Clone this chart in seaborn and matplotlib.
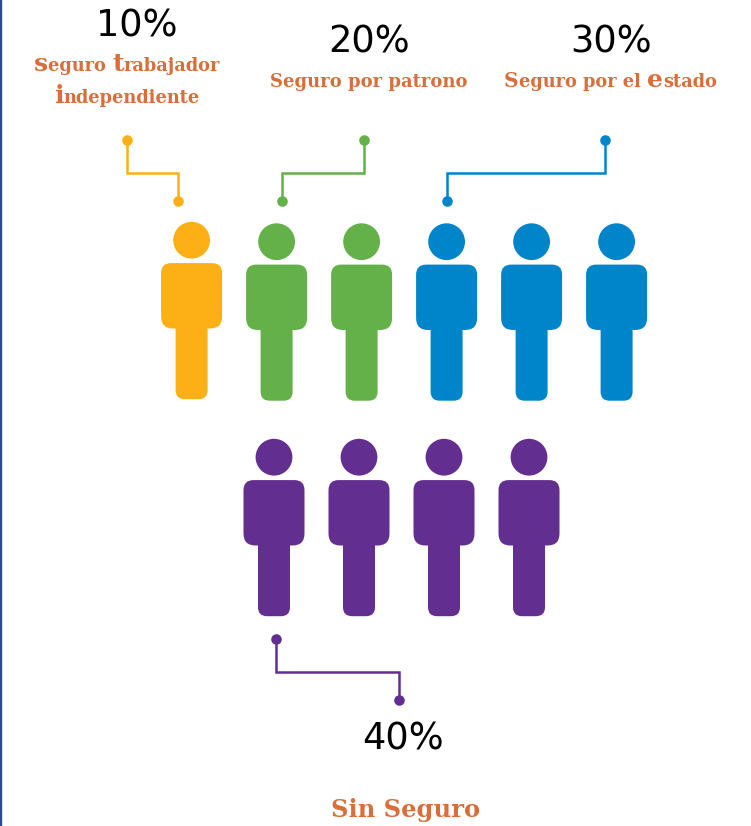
import matplotlib
matplotlib.use("Agg")
import matplotlib.pyplot as plt
import numpy as np
import pandas as pd
import seaborn as sns
from matplotlib.path import Path

categories = ["Seguro trabajador independiente", "Seguro por patrono", "Seguro por el estado", "Sin Seguro"]
shares = [10, 20, 30, 40]
share_labels = ["10%", "20%", "30%", "40%"]
colors = ["#FDB016", "#63B148", "#0085CB", "#622E90"]

W, H, DPI = 751, 826, 100
TEXT_COLOR = "#D86E3A"
SERIF = "DejaVu Serif"
PERSONS_PER_SHARE = 10
SLOT_WIDTH = 85
PERSON_HEIGHT = 177.4

# (first slot x, y) of each row of people
ROW_LAYOUT = {0: (191.6, 312), 1: (274, 527.5)}
ROW_SIZE = 6
Y_NUDGE = {0: -1.5}


def rounded_outline(corners):
    # polygon with quadratic corners: (x, y, radius)
    verts, codes = [], []
    n = len(corners)
    for i, (x, y, r) in enumerate(corners):
        p = np.array([x, y], float)
        prev = np.array(corners[i - 1][:2], float)
        nxt = np.array(corners[(i + 1) % n][:2], float)
        a = p + (prev - p) / np.linalg.norm(prev - p) * r
        b = p + (nxt - p) / np.linalg.norm(nxt - p) * r
        verts.append(a)
        codes.append(Path.MOVETO if i == 0 else Path.LINETO)
        verts += [p, b]
        codes += [Path.CURVE3, Path.CURVE3]
    verts.append(verts[0])
    codes.append(Path.CLOSEPOLY)
    return Path(verts, codes)


def person_marker():
    head = Path.circle((0, 70.3), 18.4)
    body = rounded_outline([
        (-30.5, 47.4, 10), (30.5, 47.4, 10), (30.5, -18, 12), (16, -18, 0.01),
        (16, -88.7, 9), (-16, -88.7, 9), (-16, -18, 0.01), (-30.5, -18, 12),
    ])
    return Path.make_compound_path(head, body)


# one row per person icon
rows = []
slot = 0
for i, (cat, share) in enumerate(zip(categories, shares)):
    for _ in range(share // PERSONS_PER_SHARE):
        row = slot // ROW_SIZE
        x0, y0 = ROW_LAYOUT[row]
        rows.append({
            "category": cat,
            "x": x0 + (slot % ROW_SIZE) * SLOT_WIDTH,
            "y": y0 + Y_NUDGE.get(i, 0),
        })
        slot += 1
people = pd.DataFrame(rows)

sns.set_theme(style="white")
fig = plt.figure(figsize=(W / DPI, H / DPI), dpi=DPI, facecolor="white")
ax = fig.add_axes([0, 0, 1, 1])
ax.set_xlim(0, W)
ax.set_ylim(H, 0)
ax.axis("off")

ax.axvline(1.1, color="#2B4A9B", lw=1.7)

sns.scatterplot(
    data=people,
    x="x",
    y="y",
    hue="category",
    hue_order=categories,
    palette=colors,
    marker=person_marker(),
    s=(PERSON_HEIGHT * 72 / DPI) ** 2,
    linewidth=0,
    legend=False,
    ax=ax,
)

# leader lines from the labels to the icons
leaders = [
    ([127, 127, 178, 178], [140, 173, 173, 201]),
    ([364, 364, 282, 282], [140, 173, 173, 201]),
    ([605, 605, 447, 447], [140, 173, 173, 201]),
    ([276, 276, 399, 399], [639, 672, 672, 700]),
]
for (lx, ly), color in zip(leaders, colors):
    ax.plot(lx, ly, color=color, lw=1.8, solid_joinstyle="miter")
    ax.plot([lx[0], lx[-1]], [ly[0], ly[-1]], "o", color=color, ms=7.6, mew=0)

percent_pos = [(137, 26), (369, 42), (611, 42), (403, 739)]
for label, (px, py) in zip(share_labels, percent_pos):
    ax.text(px, py, label, fontsize=26.5, color="black", ha="center", va="center",
            family="DejaVu Sans")

BIG = 18
SMALL = 12.8
renderer = fig.canvas.get_renderer()


def label_runs(x, y, runs):
    # text runs on one baseline, each starts where the last one stopped
    for s, size in runs:
        t = ax.text(x, y, s, fontsize=size, family=SERIF, weight="bold",
                    color=TEXT_COLOR, va="baseline", ha="left")
        x += t.get_window_extent(renderer).width


for x, y, runs in [
    (34, 71, [("s", BIG), ("eguro ", SMALL), ("t", BIG), ("rabajador", SMALL)]),
    (54, 103, [("i", BIG), ("ndependiente", SMALL)]),
    (270, 87, [("Seguro por patrono", 13)]),
    (504, 87, [("S", 14.5), ("eguro por el ", SMALL), ("e", BIG), ("stado", SMALL)]),
    (331, 817, [("Sin Seguro", 17.4)]),
]:
    label_runs(x, y, runs)

fig.savefig("out.png", dpi=DPI)
